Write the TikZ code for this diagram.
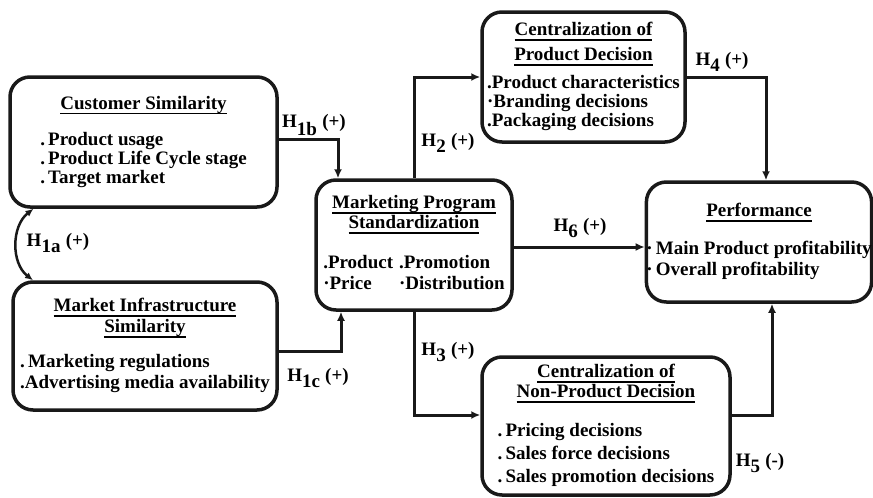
\documentclass[tikz,border=0pt]{standalone}
\usepackage{fontspec}
\setmainfont{Liberation Serif}
\usetikzlibrary{positioning}
\usetikzlibrary {arrows.meta}
\newcommand{\uhead}[1]{\setbox0=\hbox{#1}\rlap{\rule[-5pt]{\wd0}{1.5pt}}\box0}

\begin{document}
\begin{tikzpicture}[x=1pt,y=1pt,
    font=\fontsize{19}{21}\selectfont\bfseries,
    box/.style={draw=black!90, line width=3.5pt, rounded corners=20pt,
        inner xsep=0pt, inner ysep=0pt, align=center},
    link/.style={draw=black!90, line width=3pt, -{Latex[length=9pt,width=8pt]}},
    hlab/.style={inner sep=0pt}]
    \useasboundingbox (0,0) rectangle (873,-498);
    %% 方框
    \node[box, minimum width=267pt, minimum height=130pt] (cs) at (143.5,-142){%
        \begin{tabular}{@{}l@{}}
        \multicolumn{1}{@{}c@{}}{\uhead{Customer Similarity}}\\[15pt]
        .\,Product usage\\[-2pt]
        .\,Product Life Cycle stage\\[-2pt]
        .\,Target market
        \end{tabular}};
    \node[box, minimum width=264pt, minimum height=128pt] (mis) at (145,-346){%
        \begin{tabular}{@{}l@{}}
        \multicolumn{1}{@{}c@{}}{\uhead{Market Infrastructure}}\\
        \multicolumn{1}{@{}c@{}}{\uhead{Similarity}}\\[14pt]
        .\,Marketing regulations\\
        .Advertising media availability
        \end{tabular}};
    %---
    \node[box, minimum width=196pt, minimum height=130pt] (mps) at (414,-245){%
        \begin{tabular}{@{}l@{\hspace{6pt}}l@{}}
        \multicolumn{2}{@{}c@{}}{\uhead{Marketing Program}}\\[-1pt]
        \multicolumn{2}{@{}c@{}}{\uhead{Standardization}}\\[19pt]
        .Product & .Promotion\\
        ·Price & ·Distribution
        \end{tabular}};
    %---
    \node[box, minimum width=203pt, minimum height=130pt] (cpd) at (583.5,-77){%
        \begin{tabular}{@{}l@{}}
        \multicolumn{1}{@{}c@{}}{\uhead{Centralization of}}\\[4pt]
        \multicolumn{1}{@{}c@{}}{\uhead{Product Decision}}\\[7pt]
        .Product characteristics\\[-2pt]
        ·Branding decisions\\[-2pt]
        .Packaging decisions
        \end{tabular}};
    \node[box, minimum width=248pt, minimum height=138pt] (npd) at (606,-426){%
        \begin{tabular}{@{}l@{}}
        \multicolumn{1}{@{}c@{}}{\uhead{Centralization of}}\\[-1pt]
        \multicolumn{1}{@{}c@{}}{\uhead{Non-Product Decision}}\\[18pt]
        .\,Pricing decisions\\[2pt]
        .\,Sales force decisions\\[2pt]
        .\,Sales promotion decisions
        \end{tabular}};
    \node[box, minimum width=224pt, minimum height=120pt] (perf) at (759,-242){%
        \begin{tabular}{@{}l@{}}
        \multicolumn{1}{@{}c@{}}{\uhead{Performance}}\\[17pt]
        ·\,Main Product profitability\\
        ·\,Overall profitability
        \end{tabular}};
    %% 连线
    \coordinate (mpsN1) at ([xshift=-76pt]mps.north);
    \coordinate (mpsS1) at ([xshift=-73pt]mps.south);
    \draw[link] ([yshift=3pt]cs.east) -| (mpsN1);
    \draw[link] ([yshift=-5pt]mis.east) -| (mpsS1);
    \draw[link] (mps.north) |- (cpd.west);
    \draw[link] (mps.south) |- ([yshift=11pt]npd.west);
    \draw[link] (cpd.east) -| ([xshift=7pt]perf.north);
    \draw[link] ([yshift=11pt]npd.east) -| ([xshift=13pt]perf.south);
    \draw[link] ([yshift=-2pt]mps.east) -- ([yshift=-2pt]mps.east -| perf.west);
    % 弧线 H1a
    \draw[draw=black!90, line width=2.5pt, {Latex[length=8pt,width=7pt]}-{Latex[length=8pt,width=7pt]}]
        ([xshift=-110pt]cs.south) to[out=218,in=142] ([xshift=-112pt]mis.north);
    %% 文字
    \node[hlab] (l1b) at (314,-125) {H$_{\textbf{1b}}$ (+)};
    \node[hlab] (l1a) at (58,-243) {H$_{\textbf{1a}}$ (+)};
    \node[hlab] (l1c) at (318,-378) {H$_{\textbf{1c}}$ (+)};
    \node[hlab] (l2) at (448,-143) {H$_{\textbf{2}}$ (+)};
    \node[hlab] (l4) at (722,-62) {H$_{\textbf{4}}$ (+)};
    \node[hlab] (l6) at (580,-228) {H$_{\textbf{6}}$ (+)};
    \node[hlab] (l3) at (448,-352) {H$_{\textbf{3}}$ (+)};
    \node[hlab] (l5) at (760,-463) {H$_{\textbf{5}}$ (-)};
\end{tikzpicture}
\end{document}
